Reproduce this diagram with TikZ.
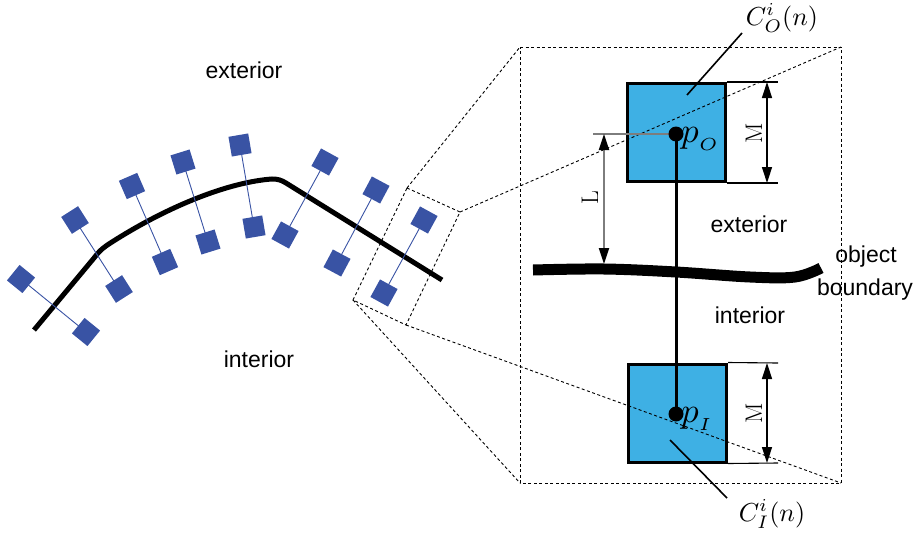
\documentclass[tikz,border=0pt]{standalone}
\usepackage{graphicx}
\usepackage{fontspec}
\newfontfamily\labelfont{Liberation Sans}
\usetikzlibrary{arrows.meta}

\definecolor{boxblue}{RGB}{62,176,228}
\definecolor{dotblue}{RGB}{57,83,164}
\definecolor{dimgray}{RGB}{125,125,125}

\begin{document}
\begin{tikzpicture}[x=1pt,y=-1pt,
  region/.style={font=\labelfont\fontsize{23}{26}\selectfont, anchor=base, inner sep=0pt},
  sq/.style={fill=dotblue, minimum size=20pt, inner sep=0pt, sloped},
  link/.style={dotblue, line width=0.9pt},
  zoomline/.style={line width=0.9pt, dash pattern=on 3pt off 2.5pt},
  cell/.style={draw, line width=3pt, fill=boxblue, minimum size=98pt, inner sep=0pt},
  pt/.style={circle, fill=black, minimum size=15pt, inner sep=0pt},
  dimM/.style={line width=1.4pt, {Triangle[length=16pt,width=10pt]}-{Triangle[length=16pt,width=10pt]}},
  dimL/.style={dimgray, line width=2pt, {Triangle[length=16pt,width=10pt,color=black]}-{Triangle[length=16pt,width=10pt,color=black]}},
  ext/.style={line width=1.1pt},
  mathlbl/.style={inner sep=0pt},
  dimlbl/.style={font=\fontsize{24}{24}\selectfont, rotate=90, inner sep=0pt}
]
\useasboundingbox (0,0) rectangle (917,535);

% ---------- left: curved boundary with sample pairs ----------
\draw[line width=5pt]
  (34,330) -- (94,258)
  .. controls (100,250) and (104,247) .. (112,242)
  .. controls (170,205) and (230,182) .. (272,179)
  .. controls (278,179) and (281,180) .. (286,183)
  -- (442,280);

\foreach \ox/\oy/\ix/\iy [count=\k] in {
   21/279/86/332,
   75/220/119/289,
  132/186/165/262,
  183/162/208/242,
  240/145/254/227,
  325/162/285/235,
  376/190/337/263,
  424/220/384/293}{
  \coordinate (o\k) at (\ox,\oy);
  \coordinate (i\k) at (\ix,\iy);
  \draw[link] (o\k) -- (i\k)
    node[pos=0, sq] (so\k) {}
    node[pos=1, sq] (si\k) {};
}

\node[region] (extL) at (244,78) {exterior};
\node[region] (intL) at (259,367) {interior};

% ---------- right: magnified pair ----------
\draw[line width=11pt] plot[smooth, tension=0.6] coordinates
  {(533,270) (604,269) (676,272) (750,277) (795,277) (821,268)};

\node[cell] (cO) at (676.5,132.5) {};
\node[cell] (cI) at (677.5,413) {};

% ---------- zoom window ----------
\coordinate (za) at (407,188);
\coordinate (zb) at (460,212);
\coordinate (zc) at (406,325);
\coordinate (zd) at (353,300);
\coordinate (ze) at (520,47);
\coordinate (zf) at (841,47);
\coordinate (zg) at (841,483);
\coordinate (zh) at (520,483);
\draw[zoomline] (za) -- (zb) -- (zc) -- (zd) -- cycle;
\draw[zoomline] (ze) -- (zf) -- (zg) -- (zh) -- cycle;
\draw[zoomline] (za) -- (ze);
\draw[zoomline] (zb) -- (zf);
\draw[zoomline] (zd) -- (zh);
\draw[zoomline] (zc) -- (zg);

% L dimension
\coordinate (lt) at (593,134);
\coordinate (la) at (604,134);
\coordinate (lb) at (604,264);
\draw[dimgray, line width=1.4pt] (lt) -- (676,134);
\draw[dimL] (la) -- (lb);
\node[dimlbl] (Llbl) at (590,198) {L};

\node[pt] (pO) at (676,134) {};
\node[pt] (pI) at (676,414) {};
\draw[line width=3pt] (pO.center) -- (pI.center);
\node[mathlbl, anchor=base west] (pOl) at (681,142) {\scalebox{3.5}{$p_{_O}$}};
\node[mathlbl, anchor=base west] (pIl) at (681,422) {\scalebox{3.5}{$p_{_I}$}};

% M dimensions
\draw[ext] (cO.north east) -- (778,82);
\draw[ext] (cO.south east) -- (778,183);
\draw[dimM] (767,82) -- (767,183);
\node[dimlbl] (MO) at (754,133) {M};

\draw[ext] (cI.north east) -- (778,363);
\draw[ext] (cI.south east) -- (778,463);
\draw[dimM] (767,363) -- (767,463);
\node[dimlbl] (MI) at (754,413) {M};

% labels of the cells
\node[mathlbl] (cOl) at (782,18) {\scalebox{2.6}{$C^{i}_{O}(n)$}};
\node[mathlbl] (cIl) at (772,514) {\scalebox{2.6}{$C^{i}_{I}(n)$}};
\coordinate (lo1) at (687,95);
\coordinate (lo2) at (742,33);
\coordinate (li1) at (670,440);
\coordinate (li2) at (727,498);
\draw[line width=1.6pt] (lo1) -- (lo2);
\draw[line width=1.6pt] (li1) -- (li2);

\node[region] (extR) at (749,232) {exterior};
\node[region] (intR) at (750,323) {interior};
\node[region] (obj) at (866,262) {object};
\node[region] (bnd) at (865,295) {boundary};
\end{tikzpicture}
\end{document}
